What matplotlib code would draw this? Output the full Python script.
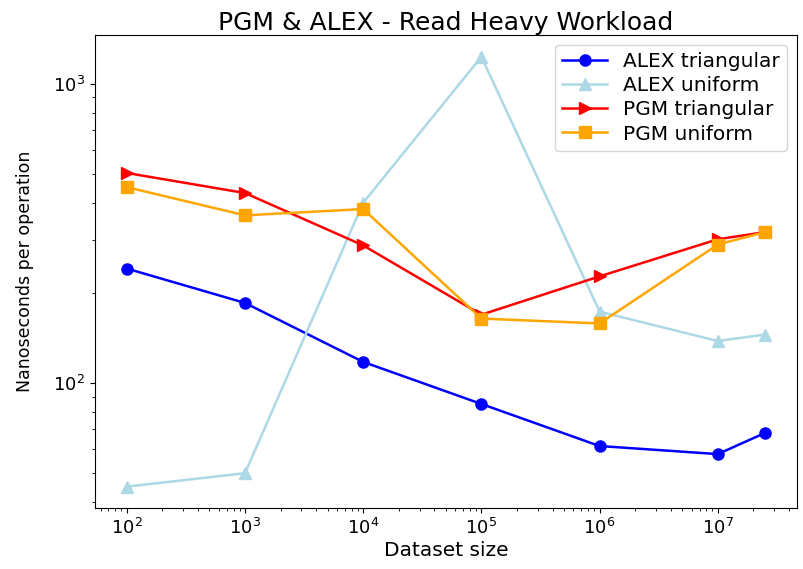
import matplotlib
matplotlib.use("Agg")
import matplotlib.pyplot as plt

sizes = [1e2, 1e3, 1e4, 1e5, 1e6, 1e7, 2.5e7]
alex_tri = [241, 185, 117.5, 85, 61.5, 57.8, 68]
alex_uni = [45, 49.9, 400, 1230, 173, 138, 145]
pgm_tri = [503, 431, 288, 169, 227, 302, 319]
pgm_uni = [451, 363, 381, 164, 158, 290, 319]

fig = plt.figure(figsize=(8.04, 5.69), dpi=100)
ax = fig.add_axes([0.118, 0.107, 0.873, 0.831])
kw = dict(linewidth=1.8, markersize=8)
ax.plot(sizes, alex_tri, marker='o', color='blue', label='ALEX triangular', **kw)
ax.plot(sizes, alex_uni, marker='^', color='lightblue', label='ALEX uniform', **kw)
ax.plot(sizes, pgm_tri, marker='>', color='red', label='PGM triangular', **kw)
ax.plot(sizes, pgm_uni, marker='s', color='orange', label='PGM uniform', **kw)
ax.set_xscale('log')
ax.set_yscale('log')
ax.set_xlabel('Dataset size', fontsize=14.5, labelpad=2)
ax.set_ylabel('Nanoseconds per operation', fontsize=12.5, labelpad=14)
ax.set_title('PGM & ALEX - Read Heavy Workload', fontsize=18, pad=4)
ax.tick_params(labelsize=13)
ax.legend(loc='upper right', fontsize=14.5, labelspacing=0.25, borderpad=0.35,
          handlelength=2.2)
fig.savefig('out.png', dpi=100)
